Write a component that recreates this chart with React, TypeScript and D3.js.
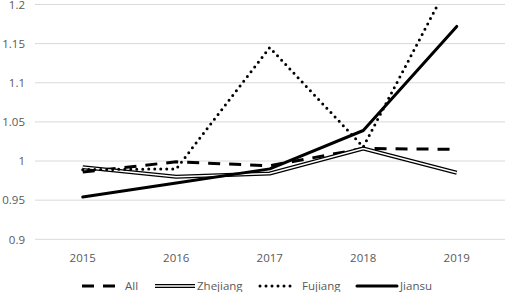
import React from "react";
import * as d3 from "d3";

const years = ["2015", "2016", "2017", "2018", "2019"];
const allValues = [0.986, 0.999, 0.994, 1.016, 1.015];
const zhejiangValues = [0.992, 0.98, 0.984, 1.016, 0.985];
const fujiangValues = [0.989, 0.99, 1.145, 1.018, 1.246];
const jiansuValues = [0.954, 0.972, 0.99, 1.039, 1.172];
const yTicks = [0.9, 0.95, 1, 1.05, 1.1, 1.15, 1.2];
const seriesNames = ["All", "Zhejiang", "Fujiang", "Jiansu"];

const W = 505;
const H = 292;
const FONT = "'Open Sans', 'Liberation Sans', sans-serif";
const TEXT = "#595959";

export default function App() {
  const x = d3.scaleBand<string>().domain(years).range([36, 503.5]).padding(0);
  const y = d3.scaleLinear().domain([0.9, 1.2]).range([239.3, 4.5]);
  const cx = (d: string) => (x(d) as number) + x.bandwidth() / 2;
  const line = d3
    .line<number>()
    .x((_, i) => cx(years[i]))
    .y((v) => y(v));

  const legendItems = [
    { name: seriesNames[0], x0: 82, x1: 120, tx: 125 },
    { name: seriesNames[1], x0: 155, x1: 195, tx: 197 },
    { name: seriesNames[2], x0: 260, x1: 296, tx: 302 },
    { name: seriesNames[3], x0: 357, x1: 397, tx: 400 },
  ];
  const ly = 286;

  const styleFor = (name: string) => {
    switch (name) {
      case "All":
        return [{ stroke: "#000", w: 3, dash: "12 9", cap: "butt" }];
      case "Zhejiang":
        return [
          { stroke: "#000", w: 4, dash: undefined, cap: "butt" },
          { stroke: "#fff", w: 1.5, dash: undefined, cap: "butt" },
        ];
      case "Fujiang":
        return [{ stroke: "#000", w: 3, dash: "0 6", cap: "round" }];
      default:
        return [{ stroke: "#000", w: 3, dash: undefined, cap: "round" }];
    }
  };

  const data: [string, number[]][] = [
    ["All", allValues],
    ["Zhejiang", zhejiangValues],
    ["Fujiang", fujiangValues],
    ["Jiansu", jiansuValues],
  ];

  return (
    <svg
      width={W}
      height={H}
      style={{ position: "fixed", left: 0, top: 0, background: "#fff" }}
      fontFamily={FONT}
    >
      <rect width={W} height={H} fill="#fff" />
      <defs>
        <clipPath id="plotClip">
          <rect x={0} y={y(1.2)} width={W} height={y(0.9) - y(1.2) + 5} />
        </clipPath>
      </defs>
      {yTicks.map((t) => (
        <g key={t}>
          <line x1={35} x2={W} y1={y(t)} y2={y(t)} stroke="#d9d9d9" strokeWidth={1} />
          <text x={25} y={y(t) + 4.3} textAnchor="end" fontSize={11.5} fill={TEXT}>
            {String(t)}
          </text>
        </g>
      ))}
      {years.map((yr) => (
        <text key={yr} x={cx(yr)} y={261.5} textAnchor="middle" fontSize={11.5} fill={TEXT}>
          {yr}
        </text>
      ))}
      <g clipPath="url(#plotClip)">
        {data.map(([name, vals]) =>
          styleFor(name).map((s, i) => (
            <path
              key={name + i}
              d={line(vals) as string}
              fill="none"
              stroke={s.stroke}
              strokeWidth={s.w}
              strokeDasharray={s.dash}
              strokeLinecap={s.cap as any}
              strokeLinejoin="round"
            />
          ))
        )}
      </g>
      {legendItems.map((it) => (
        <g key={it.name}>
          {styleFor(it.name).map((s, i) => (
            <line
              key={i}
              x1={it.x0}
              x2={it.x1}
              y1={ly}
              y2={ly}
              stroke={s.stroke}
              strokeWidth={s.w}
              strokeDasharray={s.dash}
              strokeLinecap={s.cap as any}
            />
          ))}
          <text x={it.tx} y={ly + 4.2} fontSize={11.5} fill={TEXT}>
            {it.name}
          </text>
        </g>
      ))}
    </svg>
  );
}
